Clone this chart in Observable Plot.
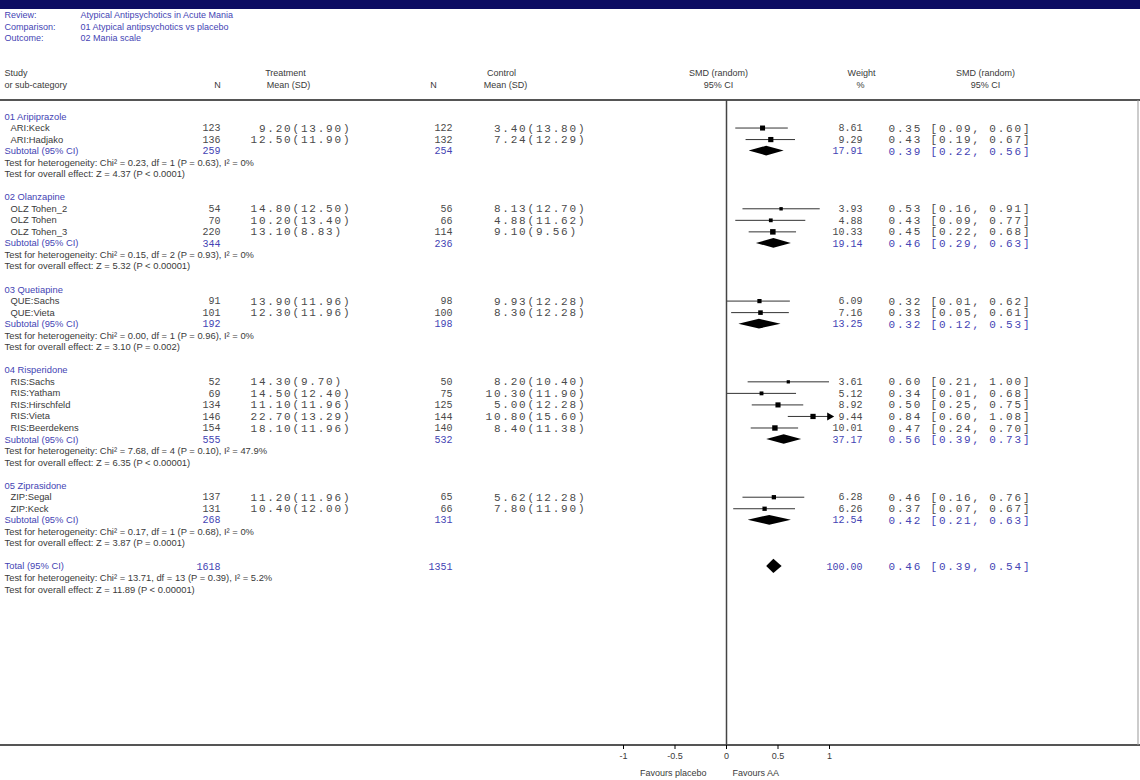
<!DOCTYPE html>
<html><head><meta charset="utf-8">
<script src="https://cdn.jsdelivr.net/npm/d3@7"></script>
<script src="https://cdn.jsdelivr.net/npm/@observablehq/plot@0.6"></script>
<style>
html,body{margin:0;padding:0;background:#fff;}
g[font-style="normal"] text{letter-spacing:1.8px;}
</style></head><body><div id="chart"></div>
<script>
// ---- header ----
const reviewTitle = "Atypical Antipsychotics in Acute Mania";
const comparisonTitle = "01 Atypical antipsychotics vs placebo";
const outcomeTitle = "02 Mania scale";

// ---- groups ----
const groupNames = ["01 Aripiprazole","02 Olanzapine","03 Quetiapine","04 Risperidone","05 Ziprasidone"];
const groupSizes = [2,3,2,5,2];

// ---- studies ----
const studyNames = ["ARI:Keck","ARI:Hadjako","OLZ Tohen_2","OLZ Tohen","OLZ Tohen_3","QUE:Sachs","QUE:Vieta",
  "RIS:Sachs","RIS:Yatham","RIS:Hirschfeld","RIS:Vieta","RIS:Beerdekens","ZIP:Segal","ZIP:Keck"];
const treatN    = [123,136,54,70,220,91,101,52,69,134,146,154,137,131];
const treatMean = [9.20,12.50,14.80,10.20,13.10,13.90,12.30,14.30,14.50,11.10,22.70,18.10,11.20,10.40];
const treatSD   = [13.90,11.90,12.50,13.40,8.83,11.96,11.96,9.70,12.40,11.96,13.29,11.96,11.96,12.00];
const ctrlN     = [122,132,56,66,114,98,100,50,75,125,144,140,65,66];
const ctrlMean  = [3.40,7.24,8.13,4.88,9.10,9.93,8.30,8.20,10.30,5.00,10.80,8.40,5.62,7.80];
const ctrlSD    = [13.80,12.29,12.70,11.62,9.56,12.28,12.28,10.40,11.90,12.28,15.60,11.38,12.28,11.90];
const weight    = [8.61,9.29,3.93,4.88,10.33,6.09,7.16,3.61,5.12,8.92,9.44,10.01,6.28,6.26];
const smd       = [0.35,0.43,0.53,0.43,0.45,0.32,0.33,0.60,0.34,0.50,0.84,0.47,0.46,0.37];
const ciLow     = [0.09,0.19,0.16,0.09,0.22,0.01,0.05,0.21,0.01,0.25,0.60,0.24,0.16,0.07];
const ciHigh    = [0.60,0.67,0.91,0.77,0.68,0.62,0.61,1.00,0.68,0.75,1.08,0.70,0.76,0.67];

// ---- subtotals ----
const subTreatN = [259,344,192,555,268];
const subCtrlN  = [254,236,198,532,131];
const subWeight = [17.91,19.14,13.25,37.17,12.54];
const subSmd    = [0.39,0.46,0.32,0.56,0.42];
const subLow    = [0.22,0.29,0.12,0.39,0.21];
const subHigh   = [0.56,0.63,0.53,0.73,0.63];
const subHet = ["Chi\u00B2 = 0.23, df = 1 (P = 0.63), I\u00B2 = 0%","Chi\u00B2 = 0.15, df = 2 (P = 0.93), I\u00B2 = 0%",
  "Chi\u00B2 = 0.00, df = 1 (P = 0.96), I\u00B2 = 0%","Chi\u00B2 = 7.68, df = 4 (P = 0.10), I\u00B2 = 47.9%",
  "Chi\u00B2 = 0.17, df = 1 (P = 0.68), I\u00B2 = 0%"];
const subZ = ["Z = 4.37 (P < 0.0001)","Z = 5.32 (P < 0.00001)","Z = 3.10 (P = 0.002)","Z = 6.35 (P < 0.00001)","Z = 3.87 (P = 0.0001)"];

// ---- total ----
const totalTreatN = 1618, totalCtrlN = 1351, totalWeight = 100.00;
const totalSmd = 0.46, totalLow = 0.39, totalHigh = 0.54;
const totalHet = "Chi\u00B2 = 13.71, df = 13 (P = 0.39), I\u00B2 = 5.2%";
const totalZ = "Z = 11.89 (P < 0.00001)";

// ---- axis ----
const xTicks = [-1,-0.5,0,0.5,1];

// ---- build rows ----
const pad = (s, n) => s.length >= n ? s : " ".repeat(n - s.length) + s;
const ms = (m, s) => pad(m.toFixed(2), 5) + "(" + s.toFixed(2) + ")";
const ci = (e, l, h) => `${e.toFixed(2)} [${l.toFixed(2)}, ${h.toFixed(2)}]`;
const groupRows = [], studyRows = [], subRows = [], testRows = [], diamonds = [];
let ri = 0, k = 0;
groupNames.forEach((g, gi) => {
  groupRows.push({i: ri++, label: g});
  for (let s = 0; s < groupSizes[gi]; s++, k++) {
    studyRows.push({i: ri++, label: studyNames[k], tN: String(treatN[k]), tMS: ms(treatMean[k], treatSD[k]),
      cN: String(ctrlN[k]), cMS: ms(ctrlMean[k], ctrlSD[k]), w: weight[k], wt: weight[k].toFixed(2),
      smd: smd[k], lo: ciLow[k], hi: ciHigh[k], ci: ci(smd[k], ciLow[k], ciHigh[k])});
  }
  subRows.push({i: ri++, label: "Subtotal (95% CI)", tN: String(subTreatN[gi]), cN: String(subCtrlN[gi]),
    wt: subWeight[gi].toFixed(2), smd: subSmd[gi], lo: subLow[gi], hi: subHigh[gi], ci: ci(subSmd[gi], subLow[gi], subHigh[gi]), h: 0.42});
  testRows.push({i: ri++, label: "Test for heterogeneity: " + subHet[gi]});
  testRows.push({i: ri++, label: "Test for overall effect: " + subZ[gi]});
  ri++;
});
subRows.push({i: ri++, label: "Total (95% CI)", tN: String(totalTreatN), cN: String(totalCtrlN),
  wt: totalWeight.toFixed(2), smd: totalSmd, lo: totalLow, hi: totalHigh, ci: ci(totalSmd, totalLow, totalHigh), h: 0.62});
testRows.push({i: ri++, label: "Test for heterogeneity: " + totalHet});
testRows.push({i: ri++, label: "Test for overall effect: " + totalZ});
subRows.forEach((d, j) => {
  diamonds.push({z: j, x: d.lo, y1: d.i, y2: d.i});
  diamonds.push({z: j, x: d.smd, y1: d.i - d.h, y2: d.i + d.h});
  diamonds.push({z: j, x: d.hi, y1: d.i, y2: d.i});
});

const blue = "#4444b4", ink = "#3a3a3a", num = "#4a4a4a", sans = "Liberation Sans", mono = "Liberation Mono";
const fs = 9;
const T = (data, o) => Plot.text(data, {frameAnchor: "left", lineAnchor: "middle", fontFamily: sans, fontSize: 9.4, fill: ink, ...o});
// narrow numeric columns (N, weight)
const M = (data, o) => Plot.text(data, {frameAnchor: "left", lineAnchor: "middle", fontFamily: mono, fontSize: 10, fill: num, ...o});
// spaced numeric columns (mean (SD), CI)
const W = (data, o) => Plot.text(data, {frameAnchor: "left", lineAnchor: "middle", fontFamily: mono, fontSize: 11, fontStyle: "normal", fill: num, textAnchor: "start", ...o});
const mTop = 100;
const H = (txt, dx, yy, o = {}) => Plot.text([txt], {text: d => d, frameAnchor: "top-left", lineAnchor: "middle", dx, dy: yy - mTop, fontFamily: sans, fontSize: fs, fill: ink, ...o});

function decor(index, scales, values, dims) {
  const {width, height, marginTop, marginBottom} = dims;
  const g = d3.create("svg:g");
  g.append("rect").attr("x", 0).attr("y", 0).attr("width", width).attr("height", 9).attr("fill", "#0c0c62");
  g.append("line").attr("x1", 0).attr("x2", width).attr("y1", marginTop).attr("y2", marginTop).attr("stroke", "#555").attr("stroke-width", 2);
  g.append("line").attr("x1", 0).attr("x2", width).attr("y1", height - marginBottom).attr("y2", height - marginBottom).attr("stroke", "#555").attr("stroke-width", 2);
  g.append("line").attr("x1", width - 2).attr("x2", width - 2).attr("y1", marginTop).attr("y2", height - marginBottom).attr("stroke", "#999").attr("stroke-width", 1);
  return g.node();
}

const chart = Plot.plot({
  width: 1140, height: 780,
  marginTop: mTop, marginBottom: 35, marginLeft: 0, marginRight: 0,
  style: {background: "#fff", fontFamily: sans},
  x: {domain: [-1, 1], range: [623, 829], label: null},
  y: {domain: [0, 41], range: [116, 589], axis: null},
  r: {type: "sqrt", domain: [0, 11], range: [0, 3.2]},
  marks: [
    decor,
    H("Review:", 4, 15, {fill: blue}), H(reviewTitle, 80, 15, {fill: blue}),
    H("Comparison:", 4, 27, {fill: blue}), H(comparisonTitle, 80, 27, {fill: blue}),
    H("Outcome:", 4, 38, {fill: blue}), H(outcomeTitle, 80, 38, {fill: blue}),
    H("Study", 4, 73), H("or sub-category", 4, 85),
    H("Treatment", 285, 73, {textAnchor: "middle"}), H("N", 217, 85, {textAnchor: "middle"}), H("Mean (SD)", 288, 85, {textAnchor: "middle"}),
    H("Control", 501, 73, {textAnchor: "middle"}), H("N", 433, 85, {textAnchor: "middle"}), H("Mean (SD)", 505, 85, {textAnchor: "middle"}),
    H("SMD (random)", 718, 73, {textAnchor: "middle"}), H("95% CI", 718, 85, {textAnchor: "middle"}),
    H("Weight", 861, 73, {textAnchor: "middle"}), H("%", 860, 85, {textAnchor: "middle"}),
    H("SMD (random)", 985, 73, {textAnchor: "middle"}), H("95% CI", 985, 85, {textAnchor: "middle"}),
    T(groupRows, {y: "i", text: "label", dx: 4, fill: blue}),
    T(studyRows, {y: "i", text: "label", dx: 10}),
    T(subRows, {y: "i", text: "label", dx: 4, fill: blue}),
    T(testRows, {y: "i", text: "label", dx: 4}),
    M(studyRows, {y: "i", text: "tN", dx: 220, textAnchor: "end"}),
    W(studyRows, {y: "i", text: "tMS", dx: 250}),
    M(studyRows, {y: "i", text: "cN", dx: 452, textAnchor: "end"}),
    W(studyRows, {y: "i", text: "cMS", dx: 485}),
    M(studyRows, {y: "i", text: "wt", dx: 862, textAnchor: "end"}),
    W(studyRows, {y: "i", text: "ci", dx: 888}),
    M(subRows, {y: "i", text: "tN", dx: 220, textAnchor: "end", fill: blue}),
    M(subRows, {y: "i", text: "cN", dx: 452, textAnchor: "end", fill: blue}),
    M(subRows, {y: "i", text: "wt", dx: 862, textAnchor: "end", fill: blue}),
    W(subRows, {y: "i", text: "ci", dx: 888, fill: blue}),
    Plot.ruleX([0], {stroke: "#444", strokeWidth: 1.5}),
    Plot.ruleY(studyRows, {y: "i", x1: "lo", x2: d => Math.min(d.hi, 1), stroke: "#333", strokeWidth: 1}),
    Plot.dot(studyRows, {x: "smd", y: "i", r: "w", symbol: "square", fill: "#000"}),
    Plot.dot(studyRows.filter(d => d.hi > 1), {x: () => 1, y: "i", r: 3, symbol: "triangle", rotate: 90, fill: "#000"}),
    Plot.areaY(diamonds, {x: "x", y1: "y1", y2: "y2", z: "z", fill: "#000", curve: "linear"}),
    Plot.axisX({anchor: "bottom", ticks: xTicks, tickFormat: d => String(d), tickSize: 4, tickPadding: 3, fontSize: fs, fontFamily: sans, fill: ink, label: null}),
    Plot.text(["Favours placebo"], {x: () => 0, text: d => d, frameAnchor: "bottom", lineAnchor: "middle", dy: 28, dx: -20, textAnchor: "end", fontFamily: sans, fontSize: fs, fill: ink}),
    Plot.text(["Favours AA"], {x: () => 0, text: d => d, frameAnchor: "bottom", lineAnchor: "middle", dy: 28, dx: 6, textAnchor: "start", fontFamily: sans, fontSize: fs, fill: ink})
  ]
});
document.getElementById("chart").appendChild(chart);
</script></body></html>
